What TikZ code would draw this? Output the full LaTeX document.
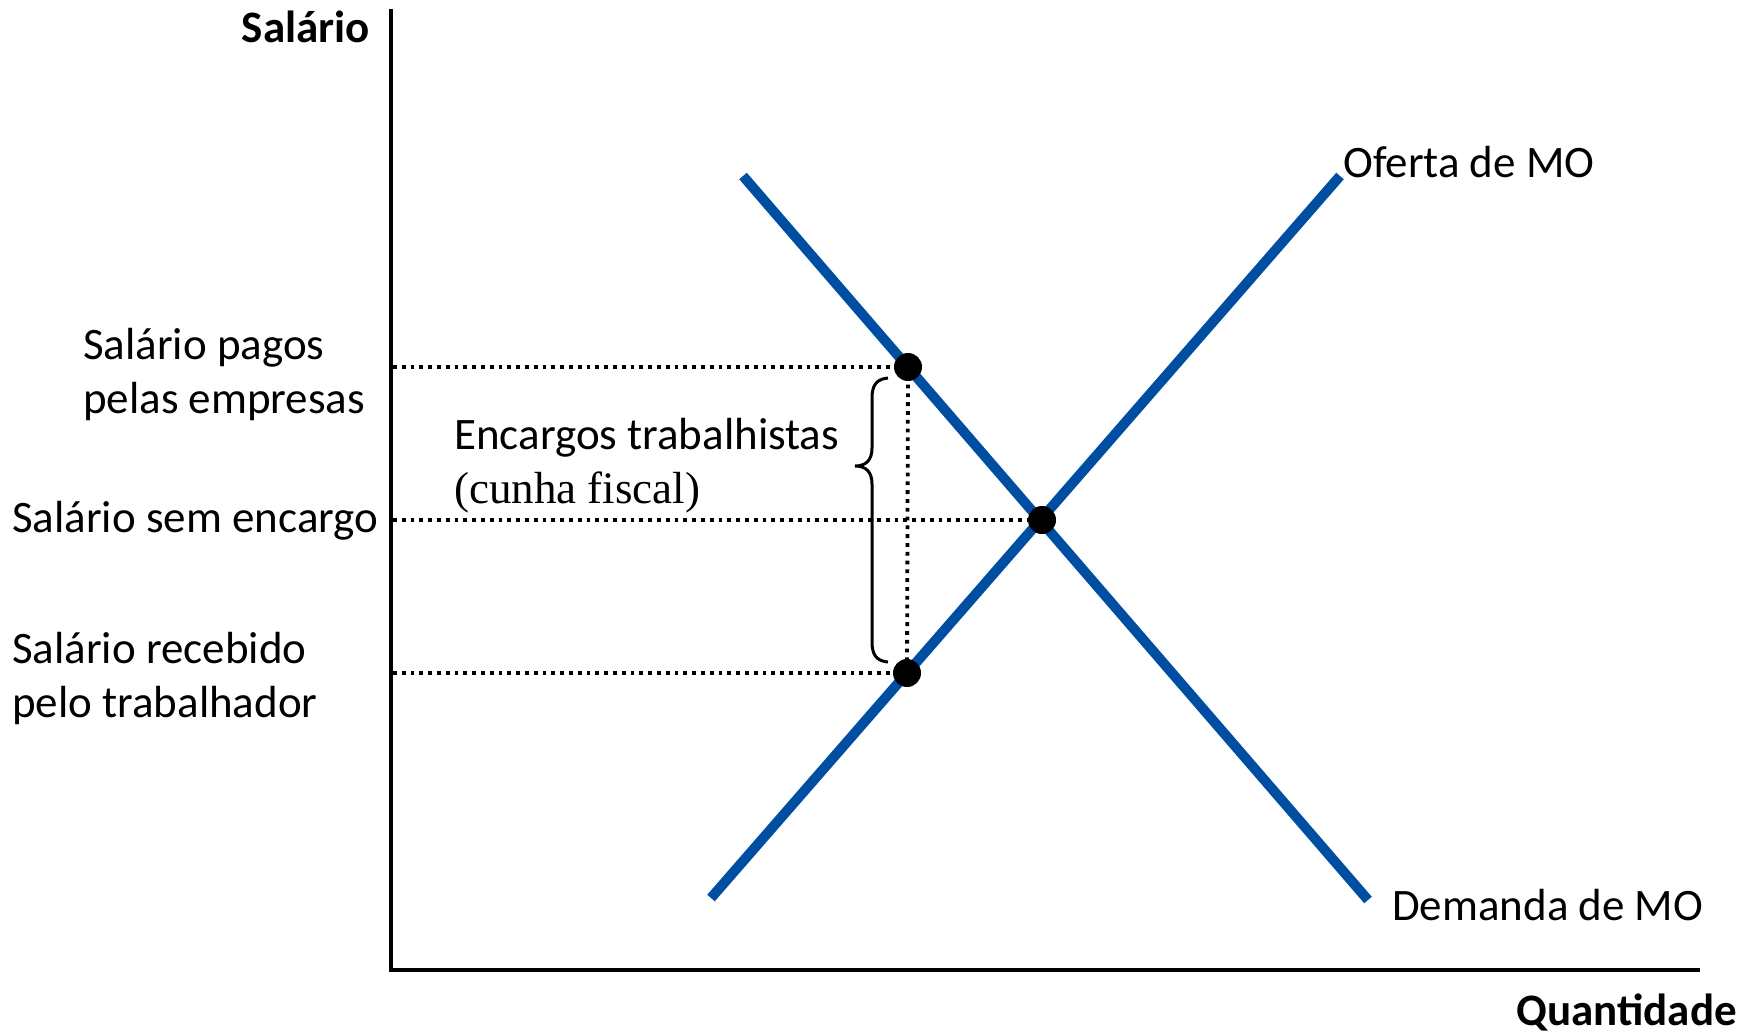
\documentclass[tikz,border=0pt]{standalone}
\usepackage{fontspec}
\setmainfont{Carlito}
\newfontfamily\cunhafont{Liberation Serif}
\usetikzlibrary{positioning}
\definecolor{moblue}{RGB}{0,78,162}

\begin{document}
\begin{tikzpicture}[x=1pt,y=-1pt]
			\tikzstyle{Label}	= [inner sep=0pt, font=\fontsize{45}{54}\selectfont, align=left]
			\tikzstyle{Dot}		= [circle, fill=black, minimum size=28pt, inner sep=0pt]
			\tikzstyle{Curve}	= [line width=10pt, moblue]
			\tikzstyle{Axis}	= [line width=3.5pt, black]
			\tikzstyle{Guide}	= [line width=3.8pt, dash pattern=on 3.8pt off 5pt]

			\useasboundingbox (0,0) rectangle (1758,1034);

			% axes
			\coordinate (origin) at (391,970);
			\coordinate (ytop) at (391,9);
			\coordinate (xend) at (1700,970);
			\draw [Axis] (ytop) -- (origin) -- (xend);
			\node (ylabel) at (370,42) [Label, anchor=base east] {\textbf{Salário}};
			\node (xlabel) at (1737,1025) [Label, anchor=base east] {\textbf{Quantidade}};

			% supply and demand
			\coordinate (s1) at (711,898);
			\coordinate (s2) at (1340,176);
			\coordinate (d1) at (743,176);
			\coordinate (d2) at (1368,900);
			\draw [Curve] (s1) -- (s2);
			\draw [Curve] (d1) -- (d2);
			\node (oferta) at (1343,177) [Label, anchor=base west] {Oferta de MO};
			\node (demanda) at (1392,920) [Label, anchor=base west] {Demanda de MO};

			% wages
			\foreach \n/\x/\y in {pagos/908/367, eq/1042/520, recebido/907/673}
				\node (p\n) at (\x,\y) [Dot] {};
			\foreach \n/\y in {pagos/367, eq/520, recebido/673}
				\coordinate (a\n) at (393,\y);
			\foreach \n in {pagos, eq, recebido}
				\draw [Guide] (a\n) -- (p\n.center);
			\draw [Guide] (ppagos.center) -- (precebido.center);

			\node (lpagos) at (83,413) [Label, anchor=base west] {Salário pagos\\pelas empresas};
			\node (leq) at (12,532) [Label, anchor=base west] {Salário sem encargo};
			\node (lrecebido) at (12,717) [Label, anchor=base west] {Salário recebido\\pelo trabalhador};

			% cunha fiscal
			\draw [line width=3pt] (888,378) .. controls (876,379) and (872,386) .. (872,398) -- (872,448)
				.. controls (872,460) and (866,466) .. (855,466)
				.. controls (866,466) and (872,472) .. (872,484) -- (872,642)
				.. controls (872,654) and (876,661) .. (888,662);
			\node (encargos) at (454,503) [Label, anchor=base west] {Encargos trabalhistas\\{\cunhafont (cunha fiscal)}};
		\end{tikzpicture}
\end{document}
